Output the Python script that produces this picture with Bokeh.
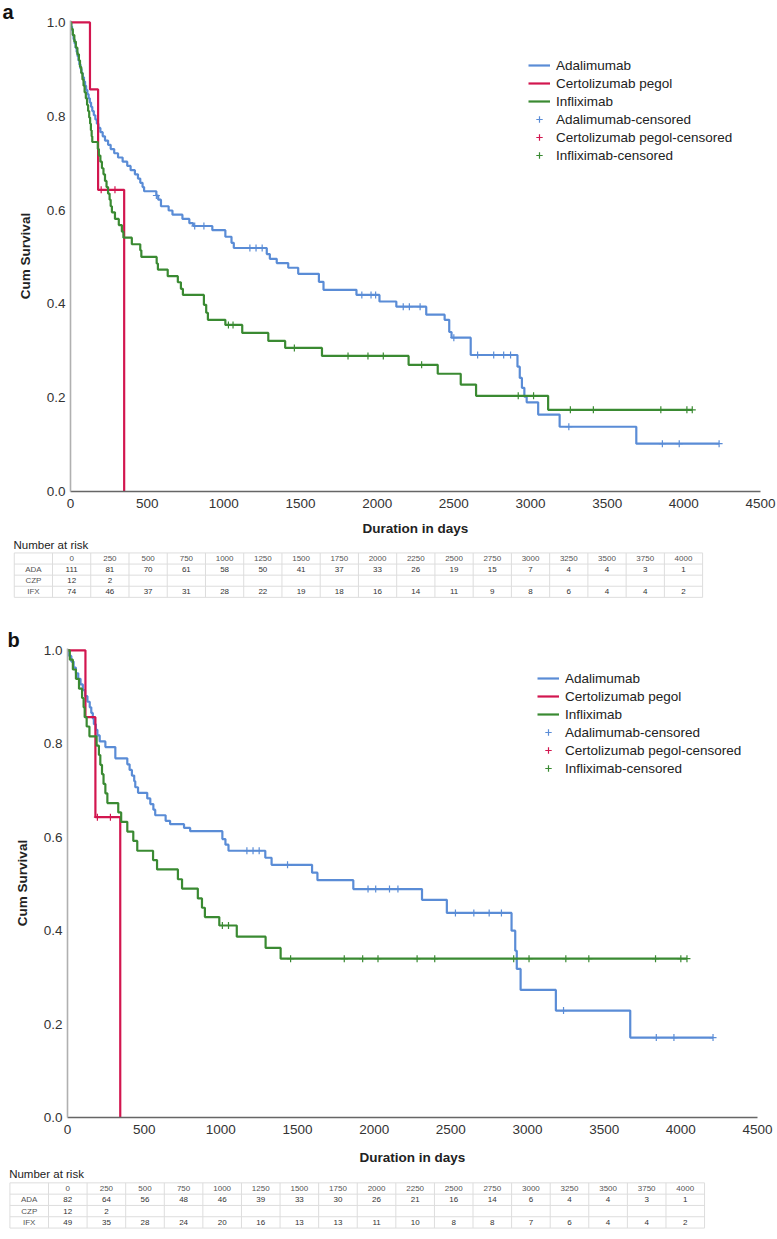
import numpy as np
from bokeh.plotting import figure
from bokeh.models import (Range1d, FixedTicker, PrintfTickFormatter, Legend,
                          LegendItem)
from bokeh.layouts import column
from bokeh.embed import file_html
from bokeh.resources import INLINE
from bokeh.core.properties import value

# ---------------- data: panel a ----------------
a_ada_time = [0, 5, 10, 15, 20, 27, 33, 40, 46, 52, 58, 65, 72, 80, 88, 95, 102, 110, 118, 126,
              134, 142, 152, 162, 172, 182, 195, 210, 225, 245, 262, 285, 310, 340, 370, 392,
              420, 440, 455, 470, 480, 560, 572, 590, 640, 665, 730, 775, 800, 925, 1010, 1050,
              1065, 1280, 1300, 1345, 1420, 1485, 1620, 1650, 1865, 2015, 2125, 2320, 2440,
              2470, 2485, 2610, 2915, 2930, 2944, 2960, 2975, 3050, 3190, 3690, 4230]
a_ada_surv = [1.0, .991, .982, .973, .964, .955, .946, .937, .928, .919, .910, .901, .892, .883,
              .874, .865, .856, .847, .838, .829, .820, .811, .802, .793, .784, .775, .766, .757,
              .748, .739, .730, .721, .712, .703, .694, .685, .676, .667, .658, .649, .640, .631,
              .622, .608, .599, .590, .581, .572, .566, .557, .543, .530, .519, .506, .496, .487,
              .477, .464, .447, .430, .419, .405, .394, .377, .366, .340, .328, .291, .266, .242,
              .221, .202, .190, .164, .138, .102, .102]
a_ada_cens = [560, 810, 870, 1170, 1210, 1250, 1900, 1960, 1990, 2170, 2210, 2280, 2500, 2655,
              2760, 2825, 2870, 3250, 3860, 3970, 4230]

a_czp_time = [0, 127, 180, 350]
a_czp_surv = [1.0, .857, .643, 0.0]
a_czp_cens = [200, 290]

a_ifx_time = [0, 5, 15, 25, 35, 45, 55, 62, 70, 78, 85, 92, 100, 108, 115, 122, 128, 133, 138,
              142, 178, 185, 195, 205, 215, 225, 235, 245, 255, 262, 270, 290, 315, 335, 345,
              400, 455, 462, 562, 570, 634, 700, 720, 733, 870, 885, 896, 1010, 1120, 1290, 1400,
              1640, 2205, 2395, 2545, 2645, 3115, 4055]
a_ifx_surv = [1.0, .986, .973, .959, .946, .932, .919, .905, .892, .878, .865, .851, .838, .824,
              .811, .797, .784, .770, .757, .745, .730, .716, .703, .689, .676, .662, .649, .635,
              .622, .608, .595, .581, .568, .554, .541, .527, .514, .500, .486, .473, .459, .446,
              .432, .419, .398, .381, .366, .355, .338, .321, .306, .289, .270, .251, .228, .204,
              .174, .174]
a_ifx_cens = [1030, 1060, 1460, 1810, 1940, 2040, 2290, 2920, 3020, 3260, 3410, 3850, 4020, 4055]

# ---------------- data: panel b ----------------
b_ada_time = [0, 10, 25, 40, 55, 70, 85, 100, 115, 130, 145, 155, 165, 172, 185, 195, 210, 247,
              312, 390, 405, 420, 435, 442, 460, 520, 540, 560, 572, 640, 669, 760, 800, 1010,
              1030, 1050, 1290, 1331, 1595, 1630, 1864, 2312, 2474, 2896, 2920, 2930, 2955,
              3185, 3670, 4210]
b_ada_surv = [1.0, .988, .976, .963, .951, .939, .927, .915, .902, .890, .878, .866, .854, .842,
              .830, .818, .805, .793, .769, .756, .744, .732, .720, .707, .695, .683, .671, .659,
              .647, .635, .628, .620, .613, .596, .584, .571, .556, .541, .524, .508, .489, .466,
              .438, .400, .357, .318, .273, .229, .171, .171]
b_ada_cens = [1170, 1210, 1250, 1435, 1960, 2010, 2100, 2155, 2530, 2650, 2750, 2830, 3235,
              3840, 3955, 4210]

b_czp_time = [0, 117, 182, 344]
b_czp_surv = [1.0, .857, .643, 0.0]
b_czp_cens = [195, 280]

b_ifx_time = [0, 15, 35, 55, 75, 95, 105, 112, 125, 143, 190, 205, 214, 225, 235, 247, 260, 331,
              350, 390, 429, 455, 558, 584, 720, 747, 850, 877, 896, 990, 1104, 1292, 1390, 4040]
b_ifx_surv = [1.0, .980, .959, .939, .918, .898, .878, .857, .837, .816, .796, .776, .755, .735,
              .714, .694, .673, .653, .633, .612, .592, .571, .551, .531, .510, .490, .469, .449,
              .429, .411, .387, .363, .340, .340]
b_ifx_cens = [1010, 1050, 1455, 1805, 1925, 2025, 2280, 2395, 2910, 3010, 3250, 3400, 3835,
              4000, 4040]

# ---------------- number at risk ----------------
risk_times = [0, 250, 500, 750, 1000, 1250, 1500, 1750, 2000, 2250, 2500, 2750, 3000, 3250,
              3500, 3750, 4000]
risk_groups = ["ADA", "CZP", "IFX"]
a_risk_ada = [111, 81, 70, 61, 58, 50, 41, 37, 33, 26, 19, 15, 7, 4, 4, 3, 1]
a_risk_czp = [12, 2]
a_risk_ifx = [74, 46, 37, 31, 28, 22, 19, 18, 16, 14, 11, 9, 8, 6, 4, 4, 2]
b_risk_ada = [82, 64, 56, 48, 46, 39, 33, 30, 26, 21, 16, 14, 6, 4, 4, 3, 1]
b_risk_czp = [12, 2]
b_risk_ifx = [49, 35, 28, 24, 20, 16, 13, 13, 11, 10, 8, 8, 7, 6, 4, 4, 2]

series_names = ["Adalimumab", "Certolizumab pegol", "Infliximab"]
x_ticks = list(range(0, 4501, 500))
y_ticks = [0.0, 0.2, 0.4, 0.6, 0.8, 1.0]

BLUE = "#5a8cd6"
RED = "#d2164f"
GREEN = "#3a8a32"
COLORS = [BLUE, RED, GREEN]
FONT = "Liberation Sans"
W = 777


def surv_at(times, surv, cens):
    idx = np.searchsorted(np.asarray(times), np.asarray(cens), side="right") - 1
    return list(np.asarray(surv)[idx])


def km_panel(curves, letter, height, b_top, b_left, b_right, b_bottom, leg_loc, letter_dx,
             label_standoff):
    p = figure(width=W, height=height, x_range=Range1d(0, 4500), y_range=Range1d(0, 1.004),
               output_backend="svg", toolbar_location=None, title=letter,
               min_border_top=b_top, min_border_left=b_left,
               min_border_right=b_right, min_border_bottom=b_bottom)
    p.frame_align = False
    p.title.align = "left"
    p.title.offset = letter_dx
    p.title.standoff = -5
    p.title.text_font = FONT
    p.title.text_font_size = "20px"
    p.title.text_font_style = "bold"
    p.title.text_color = "#111111"
    p.xgrid.visible = False
    p.ygrid.visible = False
    p.outline_line_color = None
    p.background_fill_color = "white"

    p.xaxis.ticker = FixedTicker(ticks=x_ticks)
    p.yaxis.ticker = FixedTicker(ticks=y_ticks)
    p.yaxis.formatter = PrintfTickFormatter(format="%.1f")
    for ax in (p.xaxis, p.yaxis):
        ax.major_tick_line_color = None
        ax.minor_tick_line_color = None
        ax.major_tick_out = 0
        ax.major_tick_in = 0
        ax.major_label_text_font = FONT
        ax.major_label_text_font_size = "13.5px"
        ax.major_label_text_color = "#333333"
        ax.axis_label_text_font = FONT
        ax.axis_label_text_font_size = "13.5px"
        ax.axis_label_text_font_style = "bold"
        ax.axis_label_text_color = "#222222"
    p.xaxis.major_label_standoff = 7
    p.yaxis.major_label_standoff = 5
    p.xaxis.axis_label = "Duration in days"
    p.yaxis.axis_label = "Cum Survival"
    p.xaxis.axis_label_standoff = label_standoff
    p.yaxis.axis_label_standoff = 11
    p.xaxis.axis_line_color = "#666666"
    p.xaxis.axis_line_width = 1.6
    p.yaxis.axis_line_color = "#b0b0b0"
    p.yaxis.axis_line_width = 1.6

    line_r = []
    cens_r = []
    for (t, s, c), col in zip(curves, COLORS):
        line_r.append(p.step(x=t, y=s, mode="after", line_color=col, line_width=2.2))
    for (t, s, c), col in zip(curves, COLORS):
        cens_r.append(p.scatter(x=c, y=surv_at(t, s, c), marker="cross", size=7,
                                line_color=col, line_width=1.2))

    items = [LegendItem(label=n, renderers=[r]) for n, r in zip(series_names, line_r)]
    items += [LegendItem(label=n + "-censored", renderers=[r])
              for n, r in zip(series_names, cens_r)]
    leg = Legend(items=items, location=leg_loc, label_text_font=FONT,
                 label_text_font_size="13.5px", label_text_color="#222222",
                 label_height=16, glyph_height=16, glyph_width=22, label_standoff=6,
                 spacing=2, padding=0, margin=0, border_line_color=None,
                 background_fill_alpha=0)
    p.add_layout(leg)
    return p


def risk_table(rows, height, x_rng, y_rng, title_r):
    t = figure(width=W, height=height, x_range=Range1d(*x_rng), y_range=Range1d(*y_rng),
               output_backend="svg", toolbar_location=None, x_axis_type=None,
               y_axis_type=None, min_border=0)
    t.frame_align = False
    t.xgrid.visible = False
    t.ygrid.visible = False
    t.outline_line_color = None
    ncol = len(risk_times)
    nrow = len(rows) + 1
    vx = [k - 1.5 for k in range(ncol + 2)]
    t.segment(x0=vx, y0=[-0.5] * len(vx), x1=vx, y1=[nrow - 0.5] * len(vx),
              line_color="#dddddd", line_width=1)
    hy = [k - 0.5 for k in range(nrow + 1)]
    t.segment(x0=[-1.5] * len(hy), y0=hy, x1=[ncol - 0.5] * len(hy), y1=hy,
              line_color="#dddddd", line_width=1)
    t.text(x=list(range(ncol)), y=[0] * ncol, text=[str(v) for v in risk_times],
           text_font=value(FONT), text_font_size=value("8px"), text_color="#555555",
           text_align="center", text_baseline="middle")
    for r, (name, vals) in enumerate(zip(risk_groups, rows), start=1):
        t.text(x=[-1.0], y=[r], text=[name], text_font=value(FONT),
               text_font_size=value("8px"), text_color="#555555",
               text_align="center", text_baseline="middle")
        t.text(x=list(range(len(vals))), y=[r] * len(vals), text=[str(v) for v in vals],
               text_font=value(FONT), text_font_size=value("8px"), text_color="#333333",
               text_align="center", text_baseline="middle")
    t.text(x=[-1.52], y=[title_r], text=["Number at risk"], text_font=value(FONT),
           text_font_size=value("11.5px"), text_color="#222222",
           text_align="left", text_baseline="top")
    return t


curves_a = [(a_ada_time, a_ada_surv, a_ada_cens),
            (a_czp_time, a_czp_surv, a_czp_cens),
            (a_ifx_time, a_ifx_surv, a_ifx_cens)]
curves_b = [(b_ada_time, b_ada_surv, b_ada_cens),
            (b_czp_time, b_czp_surv, b_czp_cens),
            (b_ifx_time, b_ifx_surv, b_ifx_cens)]

# panel a: frame x 70..760, y 20..492
pa = km_panel(curves_a, "a", 538, 20, 70, 17, 46, (458, 328), -68, 10)
ta = risk_table([a_risk_ada, a_risk_czp, a_risk_ifx], 74,
                (-1.860, 18.458), (4.865, -1.802), -1.757)
# panel b: frame x 67..757, y 648..1117
pb = km_panel(curves_b, "b", 555, 36, 67, 20, 50, (470, 341), -60, 13)
tb = risk_table([b_risk_ada, b_risk_czp, b_risk_ifx], 72,
                (-1.744, 18.39), (4.513, -1.858), -1.77)

layout = column(pa, ta, pb, tb, spacing=0)
open("out.html", "w").write(file_html(layout, INLINE))
